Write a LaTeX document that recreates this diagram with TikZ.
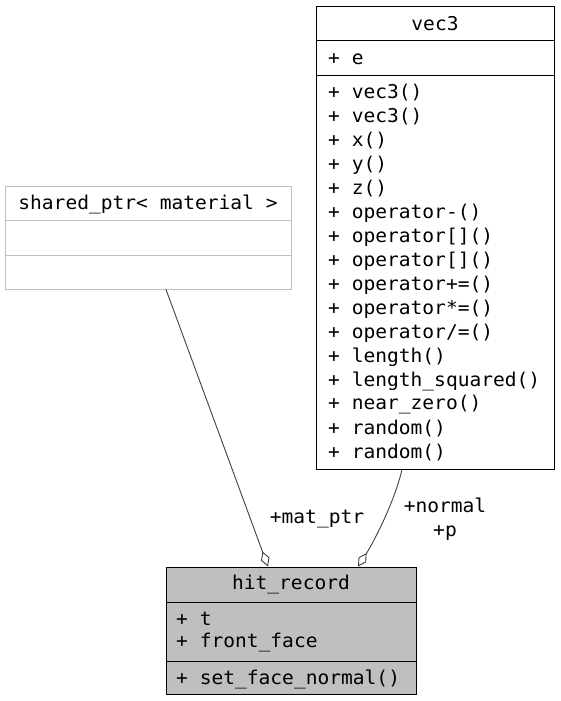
\documentclass[tikz,border=0pt]{standalone}
\usepackage{fontspec}
\setmainfont[FakeStretch=1.03]{DejaVu Sans Mono}
\usepackage{xcolor}
\usetikzlibrary{arrows.meta, positioning, calc}

\definecolor{edgegray}{HTML}{404040}
\definecolor{boxgray}{HTML}{BFBFBF}

\begin{document}
\begin{tikzpicture}[x=1pt, y=-1pt,
  font=\fontsize{19}{24}\selectfont,
  classbox/.style={draw=black, inner sep=0pt, line width=0.9pt},
  txt/.style={yshift=-2pt},
  member/.style={txt, anchor=west, inner sep=0pt},
  aggr/.style={draw=edgegray, line width=0.9pt, -{Diamond[open, length=16pt, width=9pt]}}]

  \useasboundingbox (0,0) rectangle (560,701);

  % vec3
  \node[classbox, minimum width=238, minimum height=463] (vec3) at (435,237.5) {};
  \node[txt] (vec3title) at (435,22) {vec3};
  \draw[line width=0.9pt] (vec3.west |- 0,40) -- (vec3.east |- 0,40);
  \node[member] (vec3e) at (328,57) {+ e};
  \draw[line width=0.9pt] (vec3.west |- 0,75) -- (vec3.east |- 0,75);
  \foreach \m [count=\i from 0] in {vec3(), vec3(), x(), y(), z(), operator-(),
      operator[](), operator[](), operator+=(), operator*=(), operator/=(),
      length(), length\_squared(), near\_zero(), random(), random()}
    \node[member] (vec3m\i) at (328,91+24*\i) {+ \m};

  % shared_ptr< material >
  \node[classbox, draw=boxgray, minimum width=286, minimum height=103] (shared) at (148,237.5) {};
  \node[txt] (sharedtitle) at (148,202) {shared\_ptr< material >};
  \draw[boxgray, line width=0.9pt] (shared.west |- 0,220) -- (shared.east |- 0,220);
  \draw[boxgray, line width=0.9pt] (shared.west |- 0,255) -- (shared.east |- 0,255);

  % hit_record
  \node[classbox, fill=boxgray, minimum width=250, minimum height=127] (hitrec) at (291,630.5) {};
  \node[txt] (hittitle) at (291,583) {hit\_record};
  \draw[line width=0.9pt] (hitrec.west |- 0,602) -- (hitrec.east |- 0,602);
  \node[member] (hitt) at (176,617) {+ t};
  \node[member] (hitface) at (176,641) {+ front\_face};
  \draw[line width=0.9pt] (hitrec.west |- 0,661) -- (hitrec.east |- 0,661);
  \node[member] (hitset) at (176,677) {+ set\_face\_normal()};

  % aggregations
  \draw[aggr] ($(shared.south)+(18,0)$) -- ($(hitrec.north)+(-23,0)$);
  \draw[aggr] ($(vec3.south)+(-33,0)$) .. controls (395,500) and (375,540) .. ($(hitrec.north)+(67,0)$);

  \node[txt] (lmat) at (317,517) {+mat\_ptr};
  \node[txt, align=center] (lnormal) at (445,517) {+normal\\+p};

\end{tikzpicture}
\end{document}
